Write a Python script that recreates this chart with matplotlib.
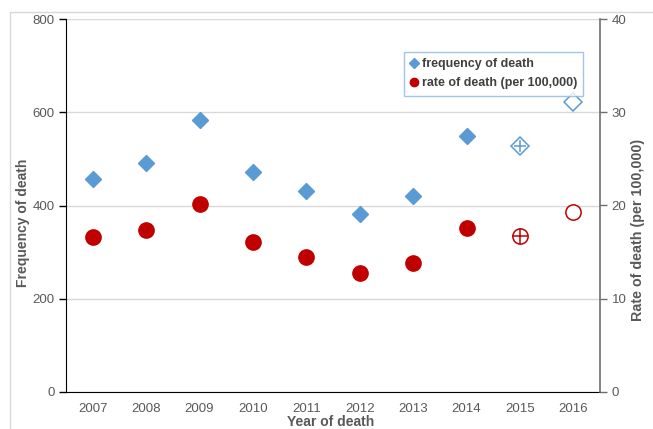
import matplotlib.pyplot as plt
from matplotlib.patches import Rectangle
from matplotlib.lines import Line2D

plt.rcParams['font.family'] = ['Liberation Sans', 'DejaVu Sans']

years = ['2007', '2008', '2009', '2010', '2011', '2012', '2013', '2014', '2015', '2016']
freq = [458, 491, 583, 473, 431, 382, 420, 549, 528, 623]
rate = [16.6, 17.4, 20.2, 16.1, 14.5, 12.7, 13.8, 17.6, 16.7, 19.3]

blue = '#5B9BD5'
red = '#C00000'
grey = '#595959'

fig = plt.figure(figsize=(6.53, 4.29), dpi=100)
fig.patches.append(Rectangle((10 / 653, -0.1), 1.2, 0.1 + 1 - 12 / 429, transform=fig.transFigure,
                             fill=False, edgecolor='#D9D9D9', linewidth=1))
ax = fig.add_axes([66 / 653, 1 - 391.7 / 429, 534 / 653, 372.4 / 429])
ax2 = ax.twinx()

x = list(range(len(years)))

# frequency (left axis)
ax.plot(x[:8], freq[:8], 'D', color=blue, ms=8.5, mec=blue, zorder=3)
ax.plot(x[8:], freq[8:], 'D', mfc='white', mec=blue, ms=9, mew=1.1, zorder=3)
ax.plot(x[8:9], freq[8:9], '+', color=blue, ms=9, mew=1.1, zorder=4)

# rate (right axis)
ax2.plot(x[:8], rate[:8], 'o', color=red, ms=11, zorder=3)
ax2.plot(x[8:], rate[8:], 'o', mfc='white', mec=red, ms=11, mew=1.1, zorder=3)
ax2.plot(x[8:9], rate[8:9], '+', color=red, ms=11, mew=1.1, zorder=4)

ax.set_xlim(-0.5, 9.5)
ax.set_ylim(0, 800)
ax2.set_ylim(0, 40)
ax.set_yticks([0, 200, 400, 600, 800])
ax2.set_yticks([0, 10, 20, 30, 40])
ax.set_xticks(x)
ax.set_xticklabels(years)

ax.grid(axis='y', color='#D9D9D9', linewidth=1)
ax.set_axisbelow(True)

for a in (ax, ax2):
    a.spines['top'].set_visible(False)
ax.spines['right'].set_visible(False)
ax2.spines['left'].set_visible(False)
ax2.spines['bottom'].set_visible(False)
ax.spines['left'].set_color('black')
ax.spines['bottom'].set_color('black')
ax2.spines['right'].set_color('#6E6E6E')
ax2.spines['right'].set_linewidth(1.2)

ax.tick_params(axis='y', color='black', labelsize=9.5, length=5, width=1, pad=3, labelcolor=grey)
ax.tick_params(axis='x', length=0, labelsize=9.5, labelcolor=grey, pad=8)
ax2.tick_params(axis='y', color='#6E6E6E', labelsize=9.5, length=5, width=1, labelcolor=grey)

ax.set_xlabel('Year of death', fontsize=10, fontweight='bold', color=grey)
ax.set_ylabel('Frequency of death', fontsize=10, fontweight='bold', color=grey)
ax2.set_ylabel('Rate of death (per 100,000)', fontsize=10.3, fontweight='bold', color=grey)
ax.xaxis.set_label_coords(0.496, -0.063)
ax.yaxis.set_label_coords(-0.068, 0.453)
ax2.yaxis.set_label_coords(1.058, 0.434)

handles = [Line2D([], [], marker='D', ls='', color=blue, ms=5),
           Line2D([], [], marker='o', ls='', color=red, ms=6)]
leg = ax2.legend(handles, ['frequency of death', 'rate of death (per 100,000)'],
                 loc='upper left', bbox_to_anchor=(0.633, 0.913), frameon=True, fancybox=False,
                 handlelength=0.6, handletextpad=0.3, borderpad=0.5, labelspacing=0.6,
                 prop={'weight': 'bold', 'size': 9}, borderaxespad=0)
leg.get_frame().set_edgecolor('#8EB4E3')
leg.get_frame().set_linewidth(1)
for t in leg.get_texts():
    t.set_color('#404040')

fig.savefig('out.png', dpi=100)
